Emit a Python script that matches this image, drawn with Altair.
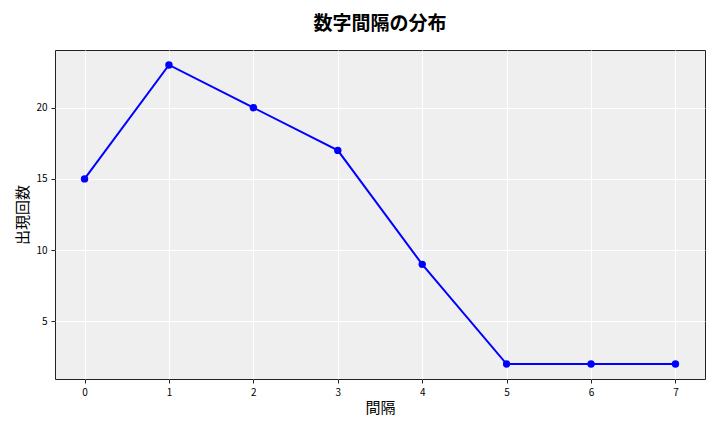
import altair as alt
import pandas as pd

intervals = [0, 1, 2, 3, 4, 5, 6, 7]
counts = [15, 23, 20, 17, 9, 2, 2, 2]

df = pd.DataFrame({"間隔": intervals, "出現回数": counts})

font = "Noto Sans CJK JP"

base = alt.Chart(df).encode(
    x=alt.X("間隔:Q",
            scale=alt.Scale(domain=[-0.35, 7.35], nice=False, zero=False),
            axis=alt.Axis(values=intervals, title="間隔", format="d")),
    y=alt.Y("出現回数:Q",
            scale=alt.Scale(domain=[0.95, 24.05], nice=False, zero=False),
            axis=alt.Axis(values=[5, 10, 15, 20], title="出現回数")),
)

line = base.mark_line(color="#0000ff", strokeWidth=2)
pts = base.mark_circle(color="#0000ff", size=55, opacity=1)

chart = (line + pts).properties(
    width=650, height=329,
    title=alt.TitleParams("数字間隔の分布", fontSize=19, font=font, fontWeight="bold", offset=16, color="#000000"),
    autosize=alt.AutoSizeParams(type="none"),
    padding={"left": 47, "top": 42, "right": 7, "bottom": 45},
).configure_view(
    fill="#efefef", stroke="#222222", strokeWidth=1
).configure_axis(
    grid=True, gridColor="#ffffff", gridWidth=1,
    domain=False, tickColor="#222222", tickSize=4,
    labelFont=font, labelFontSize=10, labelColor="#000000",
    titleFont=font, titleFontSize=15, titleFontWeight="normal", titleColor="#000000",
    labelPadding=4,
).configure_axisY(titlePadding=5).configure_axisX(titlePadding=3)

chart.save("out.html", embed_options={"renderer": "svg", "actions": False})
